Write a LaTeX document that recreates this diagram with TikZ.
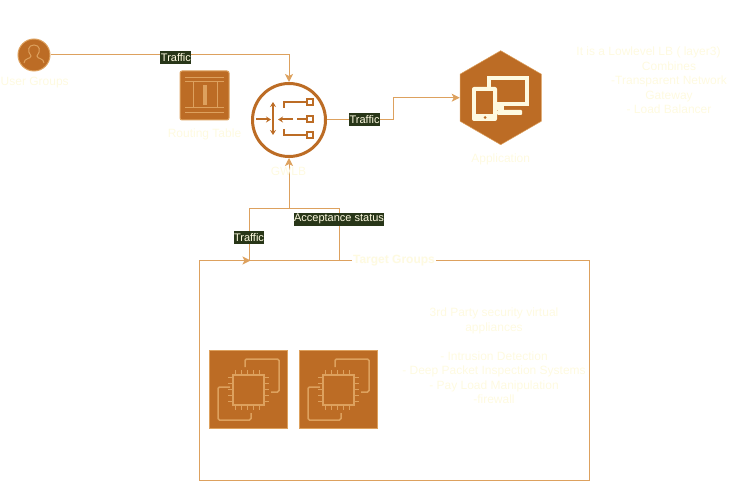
\documentclass[tikz,border=0pt]{standalone}
\usepackage{fontspec}
\setmainfont{Liberation Sans}
\usetikzlibrary{arrows.meta}
\usetikzlibrary{shapes.geometric}
\definecolor{soil}{HTML}{BC6C25}
\definecolor{sand}{HTML}{DDA15E}
\definecolor{cream}{HTML}{FEFAE0}
\definecolor{moss}{HTML}{283618}
\tikzset{
  link/.style={draw=sand,line width=1pt,-{Stealth[length=8pt,width=8pt,inset=2pt]}},
  wire/.style={draw=sand,line width=1pt},
  tag/.style={fill=moss,text=cream,font=\fontsize{11}{11}\selectfont,inner sep=0.5pt,minimum height=13pt},
  caption/.style={text=cream,font=\fontsize{12}{14.5}\selectfont,align=center,inner sep=0pt},
  glyph/.style={draw=sand,line width=1.5pt,fill=none},
}
\begin{document}
\begin{tikzpicture}[x=1pt,y=-1pt]
\useasboundingbox (0,0) rectangle (750,481);
\node [circle,fill=soil,draw=sand,line width=1pt,minimum size=32pt,inner sep=0pt] (user) at (34,55) {};
\node [rectangle,rounded corners=2pt,fill=soil,draw=sand,line width=1pt,minimum size=49pt,inner sep=0pt] (table) at (204.5,95.5) {};
\node [circle,draw=soil,line width=3pt,minimum size=73pt,inner sep=0pt] (gwlb) at (289,120) {};
\node [regular polygon,regular polygon sides=6,shape border rotate=30,fill=soil,draw=sand,line width=0.5pt,minimum size=94pt,inner sep=0pt] (app) at (500.7,97.7) {};
\node [rectangle,draw=sand,line width=1pt,minimum width=390pt,minimum height=220pt,inner sep=0pt] (target) at (394.5,370.5) {};
\node [rectangle,fill=soil,draw=sand,line width=0.5pt,minimum size=78pt,inner sep=0pt] (ecA) at (248.5,389.5) {};
\node [rectangle,fill=soil,draw=sand,line width=0.5pt,minimum size=78pt,inner sep=0pt] (ecB) at (338.5,389.5) {};
% user icon
\draw [glyph,line width=1pt] (24,63) .. controls (24,58) and (31,59) .. (31,56) .. controls (27,51) and (28,45) .. (34,45) .. controls (40,45) and (41,51) .. (37,56) .. controls (37,59) and (44,58) .. (44,63);
% routing table icon
\foreach \rowy in {78,82,108,113} {
  \draw [glyph,line width=1pt] (185,\rowy) -- (224,\rowy);
}
\draw [glyph,line width=1pt] (193,82) -- (193,108);
\draw [glyph,line width=1pt] (217,82) -- (217,108);
\fill [sand] (203,85) rectangle (207,105);
% gwlb icon
\begin{scope}[draw=soil,line width=2pt,-{Stealth[length=5pt,width=6pt]}]
  \draw (256,119.5) -- (271,119.5);
  \draw (293,119.5) -- (278,119.5);
  \draw [{Stealth[length=5pt,width=6pt]}-{Stealth[length=5pt,width=6pt]}] (273,102) -- (273,135);
\end{scope}
\begin{scope}[draw=soil,line width=2pt]
  \draw (297,119.5) -- (307,119.5);
  \draw (307,102) -- (284,102) -- (284,108);
  \draw (307,135) -- (284,135) -- (284,129);
  \foreach \porty in {102,119.5,135} {
    \draw (307,\porty-3) rectangle (313,\porty+3);
  }
\end{scope}
% application icon
\draw [cream,line width=4pt] (489,78) rectangle (527,104.5);
\fill [cream] (497,106) rectangle (504,110);
\fill [cream,rounded corners=1pt] (497,110) rectangle (522,115);
\fill [cream,rounded corners=2pt] (472,87) rectangle (497,121);
\fill [soil] (476,91) rectangle (493,114);
\fill [soil] (485,117.5) circle (1.5);
% instance icons
\foreach \boxx in {209,299} {
  \begin{scope}[shift={(\boxx,350)}]
    \draw [glyph,rounded corners=1.5pt] (36,17) -- (36,9) -- (70,9) -- (70,42) -- (62,42);
    \draw [glyph,rounded corners=1.5pt] (21,37) -- (9,37) -- (9,70) -- (42,70) -- (42,63);
    \draw [glyph,fill=soil] (24,25) rectangle (55,55);
    \foreach \pin in {26,32,38,44,50} {
      \draw [glyph,line width=1pt] (\pin,20) -- (\pin,25);
      \draw [glyph,line width=1pt] (\pin,55) -- (\pin,60);
      \draw [glyph,line width=1pt] (19,\pin+1) -- (24,\pin+1);
      \draw [glyph,line width=1pt] (55,\pin+1) -- (60,\pin+1);
    }
  \end{scope}
}
% connectors
\coordinate (split) at (289,209);
\coordinate (leftcorner) at (249,209);
\coordinate (rightcorner) at (339,209);
\coordinate (leftfoot) at (249,260.5);
\coordinate (rightfoot) at (339,260.5);
\coordinate (tipstart) at (243,260.5);
\coordinate (tipend) at (250.5,260.5);
\coordinate (bend) at (393,97.7);
\draw [link] (user.east) -| node [tag,pos=0.263,yshift=-3pt] (lblA) {Traffic} (gwlb.north);
\draw [wire] (gwlb.east) -- node [tag,pos=0.57] (lblB) {Traffic} (gwlb.east -| bend) -- (bend);
\draw [link] (bend) -- (app.west);
\draw [wire] (split) -- (leftcorner) -- node [tag,pos=0.55] (lblC) {Traffic} (leftfoot);
\draw [link] (tipstart) -- (tipend);
\draw [wire] (rightfoot) -- node [tag,pos=0.8] (lblD) {Acceptance status} (rightcorner) -- (split);
\draw [link] (split) -- (gwlb.south);
% texts
\node [caption] (lblUser) at (34.7,83) {User Groups};
\node [caption] (lblTable) at (204.5,134) {Routing Table};
\node [caption] (lblGwlb) at (288.5,171.7) {GWLB};
\node [caption] (lblApp) at (500.7,159) {Application};
\node [caption,fill=white,inner xsep=1pt,font=\fontsize{12}{14.5}\selectfont\bfseries] (lblTarget) at (394,260.5) {Target Groups};
\node [caption] (noteLb) at (669,80.5) {It is a Lowlevel LB ( layer3)\hspace*{41pt}\\Combines\hspace*{47pt}\\-Transparent Network\\Gateway\\- Load Balancer};
\node [caption] (noteApp) at (494,356) {3rd Party security virtual\\appliances\\[14.5pt]- Intrusion Detection\\- Deep Packet Inspection Systems\\- Pay Load Manipulation\\-firewall};
\end{tikzpicture}
\end{document}
